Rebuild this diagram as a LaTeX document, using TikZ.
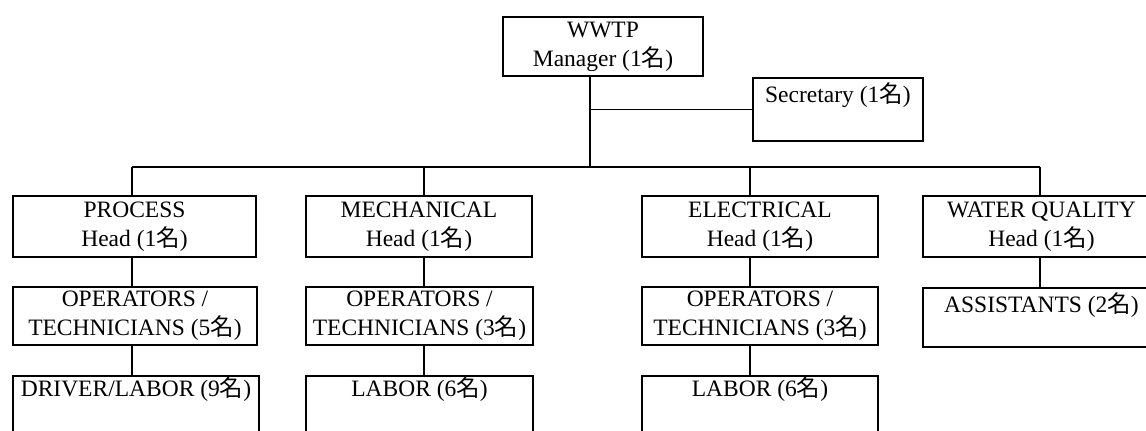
\documentclass[tikz,border=0pt]{standalone}
\usepackage{fontspec}
\setmainfont{Liberation Serif}
\newfontfamily\cjk{Noto Sans CJK JP}
\usetikzlibrary{positioning}
\newcommand{\kanjiMei}{{\cjk 名}}

\begin{document}
\begin{tikzpicture}[
        x=0.5pt, y=-0.5pt,
        bx/.style={draw, line width=0.9pt, inner sep=0pt, align=center,
            minimum height=29.5pt, font=\fontsize{11.75}{14.5}\selectfont},
        topbx/.style={bx, anchor=north, minimum height=0pt, inner ysep=1.5pt,
            text height=9pt},
        ln/.style={line width=0.9pt}
    ]
        \useasboundingbox (0,0) rectangle (1146,430);
        % top
        \node[bx, minimum width=100pt] (mgr) at (603,46.5) {WWTP\\Manager (1\kanjiMei)};
        \node[topbx, anchor=north west, minimum width=85pt, text depth=17pt, inner ysep=2pt,
            text height=10.5pt] (sec) at (752,77) {Secretary (1\kanjiMei)};
        % heads
        \node[bx, minimum width=121.5pt, minimum height=30.5pt] (proc) at (134.5,226.5) {PROCESS\\Head (1\kanjiMei)};
        \node[bx, minimum width=113pt, minimum height=30.5pt] (mech) at (419,226.5) {MECHANICAL\\Head (1\kanjiMei)};
        \node[bx, minimum width=118pt, minimum height=30.5pt] (elec) at (760,226.5) {ELECTRICAL\\Head (1\kanjiMei)};
        \node[bx, minimum width=118.5pt, minimum height=30.5pt] (wq) at (1041.5,226.5) {WATER QUALITY\\Head (1\kanjiMei)};
        % operators
        \node[bx, minimum width=122pt, minimum height=29pt] (proc-op) at (135,316) {OPERATORS /\\TECHNICIANS (5\kanjiMei)};
        \node[bx, minimum width=113.5pt, minimum height=29pt] (mech-op) at (419.5,316) {OPERATORS /\\TECHNICIANS (3\kanjiMei)};
        \node[bx, minimum width=118pt, minimum height=29pt] (elec-op) at (760,316) {OPERATORS /\\TECHNICIANS (3\kanjiMei)};
        \node[topbx, minimum width=118.5pt, text depth=15pt, inner ysep=2pt, text height=10.5pt] (wq-op) at (1041.5,287) {ASSISTANTS (2\kanjiMei)};
        % labor
        \node[topbx, minimum width=123pt, text depth=40pt] (proc-lab) at (136,375) {DRIVER/LABOR (9\kanjiMei)};
        \node[topbx, minimum width=113.5pt, text depth=40pt] (mech-lab) at (419.5,375) {LABOR (6\kanjiMei)};
        \node[topbx, minimum width=118pt, text depth=40pt] (elec-lab) at (760,375) {LABOR (6\kanjiMei)};

        \coordinate (tronco) at (590,167);
        \draw[ln] (mgr.south -| tronco) -- (tronco);
        \draw[ln] (tronco |- sec.west) -- (sec.west);
        \foreach \n/\x in {proc/132, mech/424, elec/750, wq/1040} {
            \coordinate (d-\n) at (\x,167);
            \draw[ln] (d-\n) -- (d-\n |- \n.north);
            \draw[ln] (d-\n |- \n.south) -- (d-\n |- \n-op.north);
        }
        \foreach \n in {proc, mech, elec} \draw[ln] (d-\n |- \n-op.south) -- (d-\n |- \n-lab.north);
        \draw[ln] (d-proc) -- (d-wq);
    \end{tikzpicture}
\end{document}
